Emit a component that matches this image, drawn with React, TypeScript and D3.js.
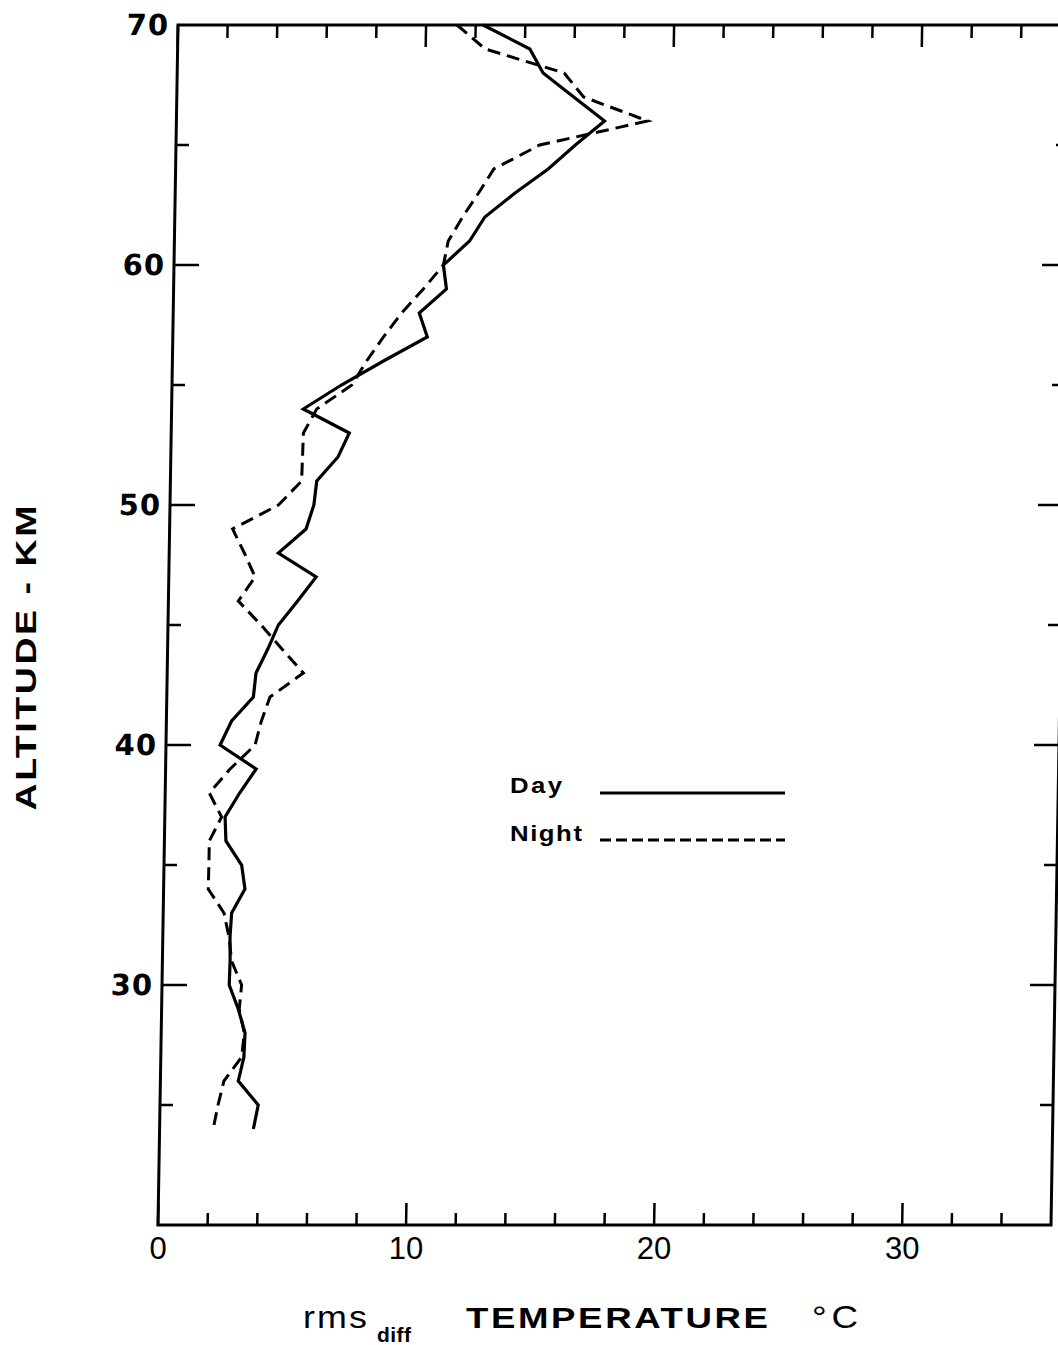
import React from "react";
import * as d3 from "d3";

const altitudes = [70,69,68,67,66,65,64,63,62,61,60,59,58,57,56,55,54,53,52,51,50,49,48,47,46,45,44,43,42,41,40,39,38,37,36,35,34,33,32,31,30,29,28,27,26,25,24];
const dayValues = [12.3,14.2,14.75,16.0,17.26,16.1,15.02,13.7,12.5,11.9,10.86,11.0,9.92,10.26,8.51,6.83,5.31,7.18,6.74,5.9,5.8,5.5,4.4,5.94,5.21,4.45,4.04,3.58,3.49,2.63,2.18,3.65,3.0,2.43,2.48,3.13,3.28,2.76,2.71,2.73,2.71,3.09,3.38,3.35,3.14,3.96,3.78];
const nightValues = [11.25,12.4,15.6,16.4,19.0,14.66,12.83,12.23,11.6,11.04,10.86,10.07,9.21,8.49,7.83,7.25,5.85,5.33,5.31,5.29,4.37,2.54,3.03,3.48,2.82,3.75,4.61,5.49,4.16,3.83,3.59,2.6,1.78,2.29,1.81,1.81,1.8,2.45,2.67,2.79,3.21,3.13,3.35,3.26,2.56,2.34,2.16];
const xTickLabels = [0, 10, 20, 30];
const yTickLabels = [30, 40, 50, 60, 70];
const xDomain = [0, 36];
const yDomain = [20, 70];

function WideText(props: { x: number; y: number; width: number; sx: number; size: number; bold?: boolean; rotate?: number; anchor?: string; children: string }) {
  const { x, y, width, sx, size, bold, rotate, anchor, children } = props;
  const rot = rotate ? ` rotate(${rotate})` : "";
  return (
    <text transform={`translate(${x},${y})${rot} scale(${sx},1)`} textAnchor={anchor || "start"}
      fontFamily="Liberation Sans" fontWeight={bold ? "bold" : "normal"} fontSize={size}
      textLength={width / sx} lengthAdjust="spacing" fill="#000">{children}</text>
  );
}

export default function App() {
  const W = 1058, H = 1345;
  const plotW = 893, plotH = 1200;
  const left = 158, top = 25;
  const skewPx = 20;
  const skewDeg = (Math.atan(skewPx / plotH) * 180) / Math.PI;
  const x = d3.scaleLinear().domain(xDomain).range([0, plotW]);
  const y = d3.scaleLinear().domain(yDomain).range([plotH, 0]);
  const line = d3.line<[number, number]>().x(d => x(d[0])).y(d => y(d[1]));
  const dayPath = line(altitudes.map((a, i) => [dayValues[i], a]))!;
  const nightPath = line(altitudes.map((a, i) => [nightValues[i], a]))!;
  const xMinor = d3.range(xDomain[0], xDomain[1], 2);
  const yMinor = d3.range(25, 70, 5);
  const isMajorX = (v: number) => v % 10 === 0;
  const isMajorY = (v: number) => v % 10 === 0;
  const sw = 3;
  return (
    <svg width={W} height={H} style={{ position: "absolute", left: 0, top: 0, background: "#fff" }}>
      <rect width={W} height={H} fill="#fff" />
      <g transform={`translate(${left + skewPx},${top}) skewX(${-skewDeg})`}>
        <rect x={0} y={0} width={plotW} height={plotH} fill="none" stroke="#000" strokeWidth={sw} />
        {xMinor.map(v => (
          <g key={"xt" + v}>
            <line x1={x(v)} x2={x(v)} y1={plotH} y2={plotH - (isMajorX(v) ? 22 : 12)} stroke="#000" strokeWidth={2.5} />
            <line x1={x(v)} x2={x(v)} y1={0} y2={isMajorX(v) ? 22 : 13} stroke="#000" strokeWidth={2.5} />
          </g>
        ))}
        {yMinor.map(v => (
          <g key={"yt" + v}>
            <line x1={0} x2={isMajorY(v) ? 25 : 13} y1={y(v)} y2={y(v)} stroke="#000" strokeWidth={2.5} />
            <line x1={plotW} x2={plotW - (isMajorY(v) ? 25 : 13)} y1={y(v)} y2={y(v)} stroke="#000" strokeWidth={2.5} />
          </g>
        ))}
        {yTickLabels.map(v => (
          <text key={"yl" + v} x={-9} y={y(v)} dy="0.36em" textAnchor="end"
            fontFamily="DejaVu Sans" fontWeight="bold" fontSize={29} letterSpacing={1} fill="#000">{v}</text>
        ))}
        <path d={dayPath} fill="none" stroke="#000" strokeWidth={3.2} strokeLinejoin="miter" />
        <path d={nightPath} fill="none" stroke="#000" strokeWidth={3} strokeDasharray="13,7" />
      </g>
      {xTickLabels.map(v => (
        <text key={"xl" + v} x={left + x(v)} y={1248} dy="0.36em" textAnchor="middle"
          fontFamily="Liberation Sans" fontSize={31} fill="#000">{v}</text>
      ))}
      <WideText x={36} y={658} rotate={-90} anchor="middle" width={305} sx={1.25} size={30} bold>ALTITUDE - KM</WideText>
      <WideText x={303} y={1328} width={64} sx={1.12} size={32}>rms</WideText>
      <WideText x={377} y={1342} width={34} sx={1.05} size={20} bold>diff</WideText>
      <WideText x={466} y={1328} width={302} sx={1.22} size={30} bold>TEMPERATURE</WideText>
      <WideText x={812} y={1328} width={46} sx={1.15} size={32}>°C</WideText>
      <WideText x={510} y={793} width={52} sx={1.12} size={23} bold>Day</WideText>
      <line x1={600} x2={785} y1={793} y2={793} stroke="#000" strokeWidth={3} />
      <WideText x={510} y={841} width={72} sx={1.12} size={23} bold>Night</WideText>
      <line x1={600} x2={785} y1={840} y2={840} stroke="#000" strokeWidth={3} strokeDasharray="11,5" />
    </svg>
  );
}
